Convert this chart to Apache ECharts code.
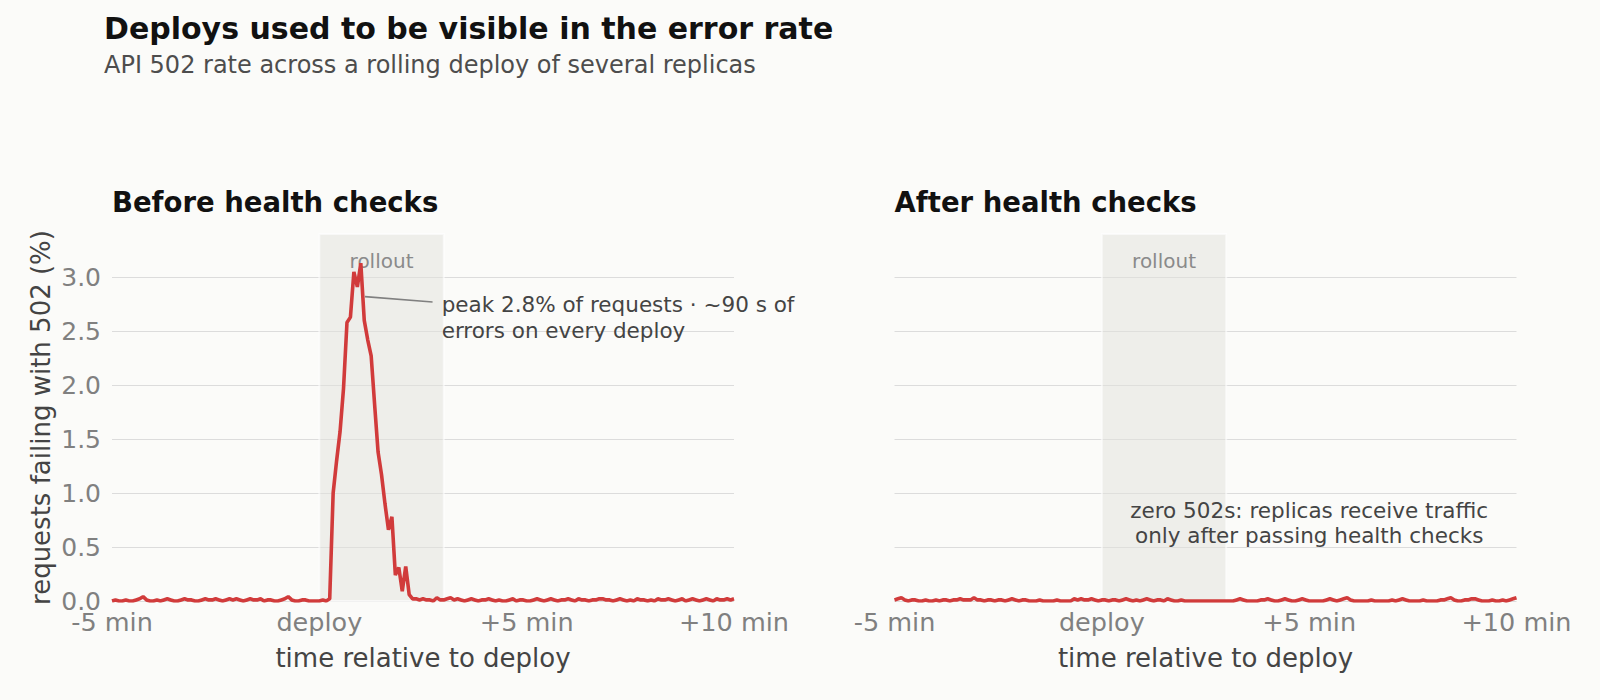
<!DOCTYPE html>
<html>
<head>
<meta charset="utf-8">
<script src="https://cdn.jsdelivr.net/npm/echarts@6/dist/echarts.min.js"></script>
<style>
html,body{margin:0;padding:0;background:#fbfbf9;}
#c{width:1600px;height:700px;}
</style>
</head>
<body>
<div id="c"></div>
<script>
// ---- data ----
const stepMinutes = 5 / 60;          // one sample every 5 s
const startMinute = -5;
const xTickValues = [-5, 0, 5, 10];
const xTickLabels = ['-5 min', 'deploy', '+5 min', '+10 min'];
const rollout = [0, 3];               // minutes relative to deploy

const beforeRate = [
  0.00,0.01,0.00,0.00,0.01,0.00,0.00,0.01,0.02,0.04,0.01,0.00,0.00,0.01,0.00,0.01,0.02,0.01,0.00,0.00,
  0.01,0.02,0.01,0.01,0.00,0.00,0.01,0.02,0.01,0.01,0.02,0.01,0.00,0.01,0.02,0.01,0.02,0.01,0.00,0.01,
  0.02,0.01,0.01,0.02,0.00,0.01,0.01,0.00,0.00,0.01,0.02,0.04,0.01,0.00,0.00,0.01,0.01,0.00,0.00,0.00,
  0.00,0.01,0.00,0.02,1.00,1.30,1.57,1.97,2.58,2.63,3.05,2.91,3.13,2.60,2.42,2.27,1.82,1.38,1.17,0.90,
  0.66,0.78,0.24,0.31,0.09,0.32,0.06,0.02,0.02,0.01,0.02,0.01,0.01,0.00,0.03,0.01,0.01,0.02,0.03,0.01,
  0.02,0.01,0.00,0.01,0.02,0.01,0.00,0.01,0.01,0.02,0.01,0.00,0.01,0.00,0.00,0.01,0.02,0.00,0.01,0.01,
  0.00,0.00,0.01,0.02,0.01,0.00,0.01,0.02,0.01,0.00,0.01,0.01,0.02,0.01,0.00,0.02,0.01,0.01,0.00,0.01,
  0.01,0.02,0.02,0.01,0.01,0.00,0.01,0.02,0.01,0.00,0.01,0.00,0.02,0.01,0.01,0.00,0.01,0.00,0.02,0.01,
  0.01,0.02,0.01,0.00,0.01,0.02,0.00,0.01,0.02,0.01,0.00,0.01,0.02,0.01,0.00,0.02,0.01,0.01,0.02,0.01,0.02
];
const afterRate = [
  0.01,0.02,0.03,0.01,0.00,0.01,0.01,0.00,0.00,0.01,0.00,0.00,0.01,0.00,0.01,0.01,0.00,0.01,0.01,0.02,
  0.01,0.01,0.01,0.03,0.01,0.01,0.00,0.01,0.01,0.00,0.01,0.01,0.00,0.01,0.02,0.01,0.00,0.01,0.01,0.00,
  0.00,0.00,0.01,0.00,0.00,0.00,0.00,0.01,0.00,0.00,0.00,0.00,0.02,0.01,0.02,0.01,0.01,0.02,0.01,0.00,
  0.01,0.01,0.00,0.01,0.01,0.00,0.01,0.02,0.01,0.00,0.01,0.00,0.01,0.02,0.01,0.00,0.01,0.01,0.00,0.02,
  0.01,0.00,0.00,0.01,0.00,0.00,0.00,0.00,0.00,0.00,0.00,0.00,0.00,0.00,0.00,0.00,0.00,0.00,0.00,0.01,
  0.02,0.01,0.00,0.00,0.00,0.00,0.01,0.01,0.02,0.01,0.00,0.00,0.01,0.02,0.01,0.00,0.00,0.01,0.02,0.01,
  0.00,0.00,0.00,0.00,0.00,0.01,0.02,0.01,0.00,0.01,0.02,0.03,0.01,0.00,0.00,0.00,0.00,0.00,0.01,0.00,
  0.00,0.00,0.00,0.00,0.01,0.00,0.01,0.02,0.01,0.00,0.00,0.00,0.00,0.01,0.00,0.00,0.00,0.00,0.01,0.01,
  0.02,0.03,0.01,0.00,0.00,0.01,0.01,0.02,0.02,0.01,0.00,0.00,0.00,0.01,0.00,0.00,0.01,0.00,0.01,0.02,0.03
];

const peakLeader = [[1.10, 2.82], [2.73, 2.77]];
const peakNoteAt = [2.95, 2.63];
const peakNote = 'peak 2.8% of requests · ~90 s of\nerrors on every deploy';
const afterNoteAt = [5.0, 0.72];
const afterNote = 'zero 502s: replicas receive traffic\nonly after passing health checks';

const titleText = 'Deploys used to be visible in the error rate';
const subtitleText = 'API 502 rate across a rolling deploy of several replicas';
const panelTitles = ['Before health checks', 'After health checks'];
const xName = 'time relative to deploy';
const yName = 'requests failing with 502 (%)';

// ---- chart ----
const FONT = 'DejaVu Sans';
const toPairs = arr => arr.map((v, i) => [startMinute + i * stepMinutes, v]);

const chart = echarts.init(document.getElementById('c'), null, {renderer: 'svg'});

const gridTop = 234, gridH = 367, gridW = 622;
const gridLefts = [112, 894.5];

function xAxisFor(i) {
  return {
    type: 'value', gridIndex: i, min: -5, max: 10, interval: 5,
    axisLine: {show: false}, axisTick: {show: false}, splitLine: {show: false},
    axisLabel: {
      color: '#808080', fontSize: 25.5, fontFamily: FONT, margin: 8,
      formatter: v => { const k = xTickValues.indexOf(v); return k >= 0 ? xTickLabels[k] : ''; }
    },
    name: xName, nameLocation: 'middle', nameGap: 44,
    nameTextStyle: {color: '#444', fontSize: 26, fontFamily: FONT}
  };
}
function yAxisFor(i) {
  return {
    type: 'value', gridIndex: i, min: 0, max: 3.4, interval: 0.5,
    axisLine: {show: false}, axisTick: {show: false},
    splitLine: {show: true, showMaxLine: false, lineStyle: {color: '#dcdcdc', width: 1}},
    axisLabel: {
      show: i === 0, color: '#808080', fontSize: 25, fontFamily: FONT, margin: 11,
      showMaxLabel: false, formatter: v => v.toFixed(1)
    },
    name: i === 0 ? yName : '', nameLocation: 'middle', nameGap: 58,
    nameTextStyle: {color: '#444', fontSize: 26, fontFamily: FONT}
  };
}
function rolloutArea() {
  return {
    silent: true,
    itemStyle: {color: 'rgba(226,226,220,0.5)', borderColor: 'rgba(255,255,255,0.6)', borderWidth: 2},
    label: {show: true, position: 'insideTop', distance: 18, formatter: 'rollout',
            color: '#8a8a8a', fontSize: 20, fontFamily: FONT},
    data: [[{xAxis: rollout[0]}, {xAxis: rollout[1]}]]
  };
}

chart.setOption({
  backgroundColor: '#fbfbf9',
  animation: false,
  grid: gridLefts.map(l => ({left: l, top: gridTop, width: gridW, height: gridH, outerBoundsMode: 'none', containLabel: false})),
  xAxis: [xAxisFor(0), xAxisFor(1)],
  yAxis: [yAxisFor(0), yAxisFor(1)],
  series: [
    {
      type: 'line', xAxisIndex: 0, yAxisIndex: 0, data: toPairs(beforeRate),
      showSymbol: false, symbol: 'none', lineStyle: {color: '#d13b3b', width: 3.6}, z: 5,
      markArea: rolloutArea(),
      markLine: {
        silent: true, symbol: ['none', 'none'], label: {show: false},
        lineStyle: {color: '#808080', width: 1.6, type: 'solid'},
        data: [[{coord: peakLeader[0]}, {coord: peakLeader[1]}]]
      }
    },
    {
      type: 'line', xAxisIndex: 1, yAxisIndex: 1, data: toPairs(afterRate),
      showSymbol: false, symbol: 'none', lineStyle: {color: '#d13b3b', width: 3.6}, z: 5,
      markArea: rolloutArea()
    }
  ]
});

const p1 = chart.convertToPixel({gridIndex: 0}, peakNoteAt);
const p2 = chart.convertToPixel({gridIndex: 1}, afterNoteAt);

chart.setOption({
  graphic: [
    {type: 'text', x: 104, y: 28, style: {text: titleText, fontSize: 30, fontWeight: 'bold', fontFamily: FONT, fill: '#111', align: 'left', verticalAlign: 'middle'}},
    {type: 'text', x: 104, y: 65, style: {text: subtitleText, fontSize: 24, fontFamily: FONT, fill: '#4d4d4d', align: 'left', verticalAlign: 'middle'}},
    {type: 'text', x: 112, y: 202, style: {text: panelTitles[0], fontSize: 27.5, fontWeight: 'bold', fontFamily: FONT, fill: '#111', align: 'left', verticalAlign: 'middle'}},
    {type: 'text', x: 894.5, y: 202, style: {text: panelTitles[1], fontSize: 27.5, fontWeight: 'bold', fontFamily: FONT, fill: '#111', align: 'left', verticalAlign: 'middle'}},
    {type: 'text', x: p1[0], y: p1[1], z: 10, style: {text: peakNote, fontSize: 21.5, lineHeight: 26, fontFamily: FONT, fill: '#444', align: 'left', verticalAlign: 'middle'}},
    {type: 'text', x: p2[0], y: p2[1], z: 10, style: {text: afterNote, fontSize: 21.5, lineHeight: 25, fontFamily: FONT, fill: '#444', align: 'center', verticalAlign: 'middle'}}
  ]
});
</script>
</body>
</html>
